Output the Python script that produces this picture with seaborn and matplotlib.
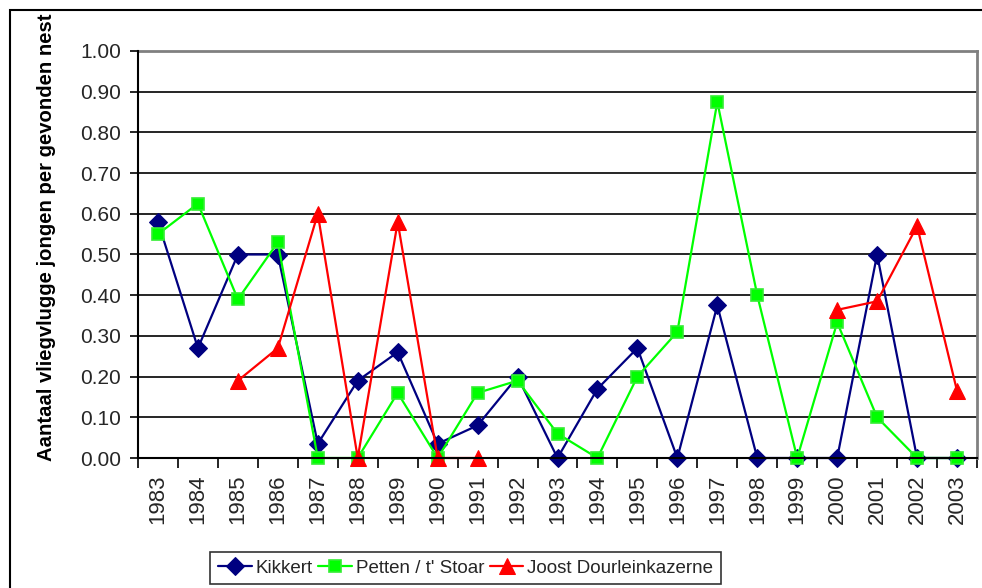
import numpy as np
import pandas as pd
import matplotlib
matplotlib.use("Agg")
import matplotlib.pyplot as plt
from matplotlib.patches import Rectangle
from matplotlib.ticker import MultipleLocator, FixedLocator, FormatStrFormatter
import seaborn as sns

years = list(range(1983, 2004))
kikkert = [0.58, 0.27, 0.50, 0.50, 0.035, 0.19, 0.26, 0.035, 0.08, 0.20, 0.00,
           0.17, 0.27, 0.00, 0.375, 0.00, 0.00, 0.00, 0.50, 0.00, 0.00]
petten = [0.55, 0.625, 0.39, 0.53, 0.00, 0.00, 0.16, 0.00, 0.16, 0.19, 0.06,
          0.00, 0.20, 0.31, 0.875, 0.40, 0.00, 0.333, 0.10, 0.00, 0.00]
joost = [np.nan, np.nan, 0.19, 0.27, 0.60, 0.00, 0.58, 0.00, 0.00, np.nan, np.nan,
         np.nan, np.nan, np.nan, np.nan, np.nan, np.nan, 0.364, 0.385, 0.57, 0.165]
series_names = ["Kikkert", "Petten / t' Stoar", "Joost Dourleinkazerne"]
y_label = "Aantaal vliegvlugge jongen per gevonden nest"

sns.set_theme(style="white")
plt.rcParams['font.family'] = ['Liberation Sans', 'DejaVu Sans']

W, H = 982, 588
fig = plt.figure(figsize=(W / 100, H / 100), dpi=100)
ax = fig.add_axes([138 / W, 1 - 458 / H, (977 - 138) / W, (458 - 51) / H])

df_k = pd.DataFrame({"year": years, "v": kikkert})
df_p = pd.DataFrame({"year": years, "v": petten})
df_j = pd.DataFrame({"year": years, "v": joost})
df_j["seg"] = df_j["v"].isna().cumsum()
df_j = df_j.dropna()

lw = 1.6
sns.lineplot(data=df_k, x="year", y="v", ax=ax, color="#000080", lw=lw,
             marker="D", markersize=9.5, markeredgecolor="#000080",
             label=series_names[0], zorder=3, clip_on=False)
sns.lineplot(data=df_p, x="year", y="v", ax=ax, color="#00FF00", lw=lw,
             marker="s", markersize=9, markerfacecolor="#00FF00",
             markeredgecolor="#33EE33", markeredgewidth=1.2,
             label=series_names[1], zorder=4, clip_on=False)
first = True
for seg, sub in df_j.groupby("seg"):
    sns.lineplot(data=sub, x="year", y="v", ax=ax, color="#FF0000", lw=lw,
                 marker="^", markersize=12, markeredgecolor="#FF0000",
                 label=series_names[2] if first else None, zorder=5,
                 clip_on=False)
    first = False

ax.set_xlim(years[0] - 0.5, years[-1] + 0.5)
ax.set_ylim(0, 1.0)
ax.set_xlabel("")
ax.set_ylabel("")

ax.yaxis.set_major_locator(MultipleLocator(0.1))
ax.yaxis.set_major_formatter(FormatStrFormatter("%.2f"))
ax.grid(axis="y", color="black", lw=1.2)
ax.grid(axis="x", visible=False)
ax.tick_params(axis="y", which="major", left=True, length=6, width=1.2,
               direction="out", color="black", labelsize=15, pad=6)

ax.xaxis.set_major_locator(FixedLocator(years))
ax.set_xticklabels([str(y) for y in years], rotation=90)
ax.xaxis.set_minor_locator(FixedLocator([y - 0.5 for y in years] + [years[-1] + 0.5]))
ax.tick_params(axis="x", which="major", bottom=True, length=0, labelsize=16, pad=12)
ax.tick_params(axis="x", which="minor", bottom=True, length=7, width=1.2,
               direction="out", color="black")

for s in ["left", "bottom"]:
    ax.spines[s].set_color("black")
    ax.spines[s].set_linewidth(1.5)
for s in ["top", "right"]:
    ax.spines[s].set_color("#808080")
    ax.spines[s].set_linewidth(2)
ax.spines["left"].set_zorder(6)
ax.spines["bottom"].set_zorder(6)

fig.text(47 / W, 1 - 461 / H, y_label, rotation=90, ha="center", va="bottom",
         fontsize=14.6, fontweight="bold", color="black")

handles, labels = ax.get_legend_handles_labels()
leg = fig.legend(handles, labels, loc="center", ncol=3,
                 bbox_to_anchor=(465.5 / W, 1 - 568 / H), frameon=True,
                 fancybox=False, edgecolor="black",
                 prop={"family": ["Liberation Sans"], "size": 13.5},
                 handlelength=1.8, handletextpad=0.2, columnspacing=0.3,
                 borderpad=0.4, borderaxespad=0)
leg.get_frame().set_linewidth(1.2)
if ax.legend_:
    ax.legend_.remove()

fig.add_artist(Rectangle((10 / W, -0.2), 1.5, 1.2 - 10 / H,
                         transform=fig.transFigure, fill=False,
                         ec="black", lw=1.5, clip_on=False))

fig.savefig("out.png", dpi=100)
